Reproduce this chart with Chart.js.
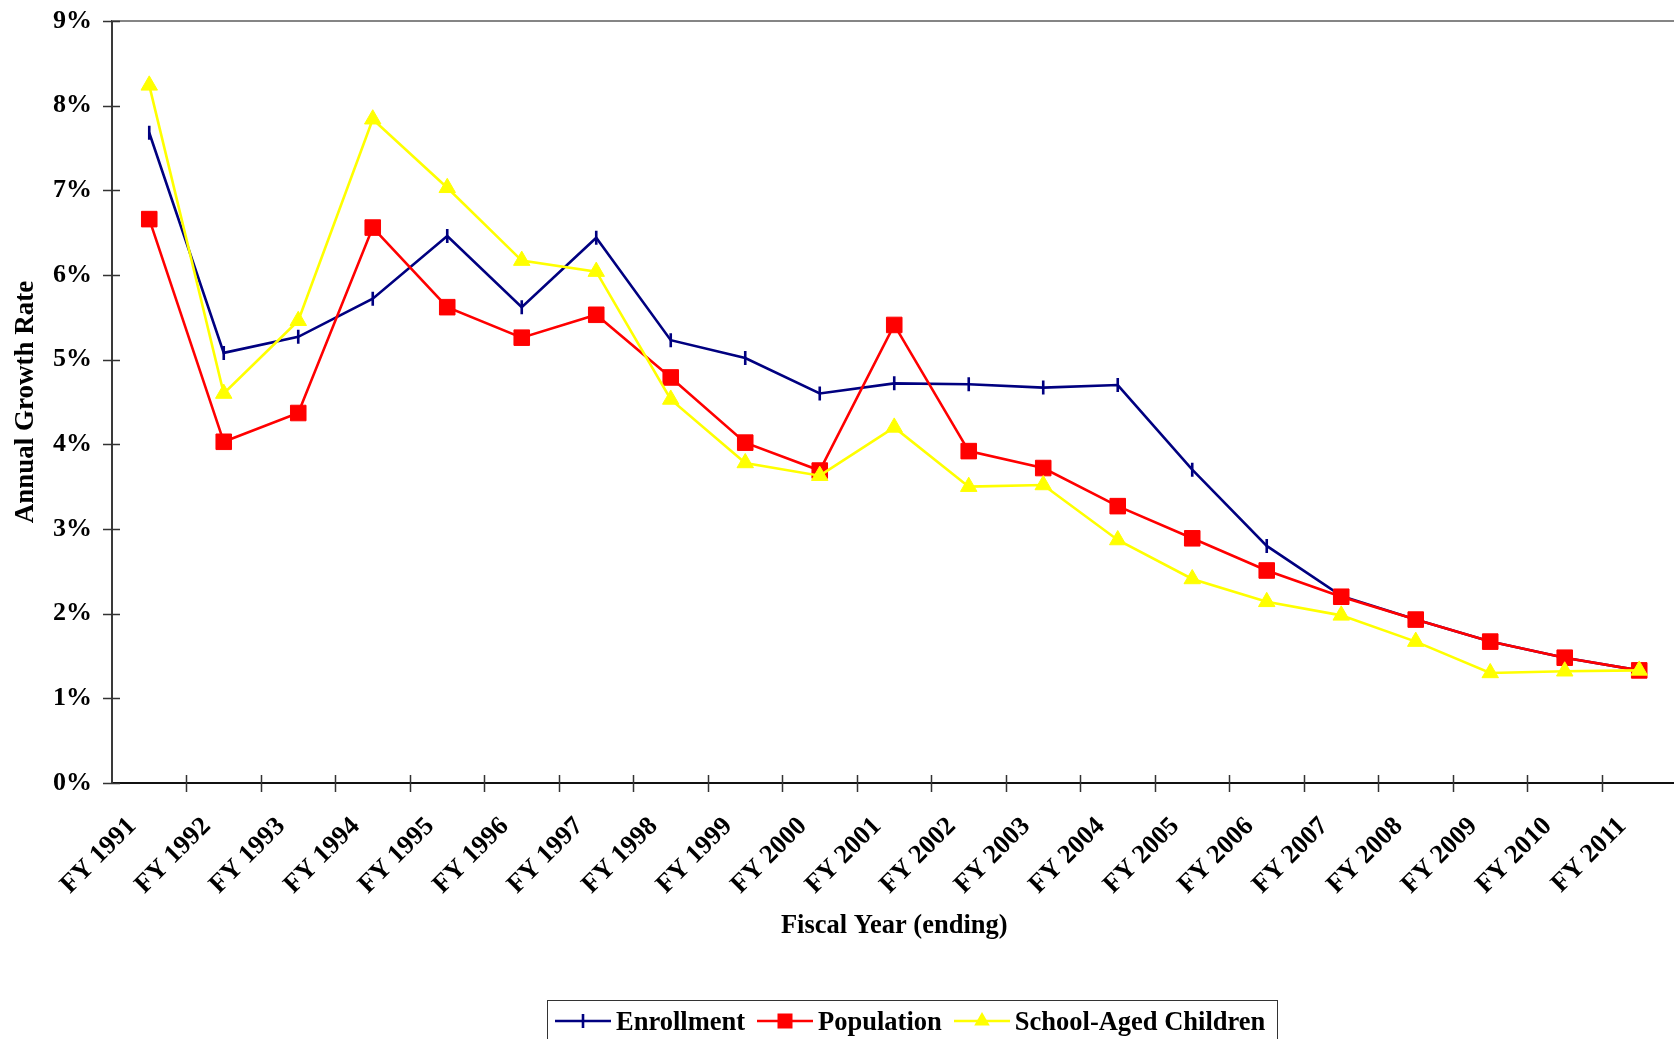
<!DOCTYPE html>
<html><head><meta charset="utf-8">
<script src="https://cdn.jsdelivr.net/npm/chart.js@4.4.1/dist/chart.umd.min.js"></script>
<style>
html,body{margin:0;padding:0;overflow:hidden;background:#fff;width:1674px;height:1039px;}
#wrap{position:absolute;left:0;top:0;width:1690px;height:1039px;}
#legend{position:absolute;left:547px;top:1000px;width:731px;height:60px;border:1px solid #333;box-sizing:border-box;display:flex;align-items:flex-start;padding:5px 0 0 7px;font:bold 26.5px "Liberation Serif";line-height:30px;color:#000;}
.item{display:flex;align-items:center;margin-right:12px;white-space:nowrap}
.item canvas{margin-right:5px}
</style></head>
<body>
<div id="wrap"><canvas id="c" width="1690" height="1039"></canvas></div>
<div id="legend"></div>
<script>
const categories = ['FY 1991','FY 1992','FY 1993','FY 1994','FY 1995','FY 1996','FY 1997','FY 1998','FY 1999','FY 2000','FY 2001','FY 2002','FY 2003','FY 2004','FY 2005','FY 2006','FY 2007','FY 2008','FY 2009','FY 2010','FY 2011'];
const enrollment = [7.68, 5.08, 5.27, 5.72, 6.46, 5.62, 6.44, 5.23, 5.02, 4.60, 4.72, 4.71, 4.67, 4.70, 3.70, 2.80, 2.21, 1.93, 1.67, 1.48, 1.33];
const population = [6.66, 4.03, 4.37, 6.56, 5.62, 5.26, 5.53, 4.79, 4.02, 3.69, 5.41, 3.92, 3.72, 3.27, 2.89, 2.51, 2.20, 1.93, 1.67, 1.48, 1.33];
const schoolAged = [8.24, 4.60, 5.46, 7.84, 7.03, 6.17, 6.04, 4.53, 3.78, 3.63, 4.20, 3.50, 3.52, 2.87, 2.41, 2.14, 1.98, 1.67, 1.30, 1.32, 1.33];
const seriesNames = ['Enrollment', 'Population', 'School-Aged Children'];
const yTickValues = [0,1,2,3,4,5,6,7,8,9];
const xTitle = 'Fiscal Year (ending)';
const yTitle = 'Annual Growth Rate';

const NAVY = '#000080', RED = '#FF0000', YELLOW = '#FFFF00';
const FONT = 'Liberation Serif';

Chart.defaults.font.family = FONT;
Chart.defaults.font.weight = 'bold';
Chart.defaults.color = '#000';

const axisDecor = {
  id: 'axisDecor',
  beforeDatasetsDraw(chart) {
    const {ctx, chartArea: a, scales: {x, y}} = chart;
    ctx.save();
    ctx.strokeStyle = '#858585';
    ctx.lineWidth = 2;
    ctx.beginPath(); ctx.moveTo(a.left, a.top); ctx.lineTo(a.right + 20, a.top); ctx.stroke();
    ctx.strokeStyle = '#333';
    ctx.lineWidth = 1.5;
    ctx.beginPath();
    y.ticks.forEach((t, i) => {
      const py = Math.round(y.getPixelForTick(i)) + 0.5;
      ctx.moveTo(a.left - 9, py); ctx.lineTo(a.left + 8, py);
    });
    const n = x.ticks.length;
    for (let i = 1; i <= n; i++) {
      const px = Math.round(x.left + i * x.width / n) + 0.5;
      ctx.moveTo(px, a.bottom - 8); ctx.lineTo(px, a.bottom + 9);
    }
    ctx.stroke();
    ctx.restore();
  }
};

const datasets = [
  {label: seriesNames[0], data: enrollment, borderColor: NAVY, backgroundColor: NAVY, borderWidth: 2.6,
   pointStyle: 'line', pointRotation: 90, pointRadius: 7, pointBorderWidth: 2.6, pointHoverRadius: 7, order: 3},
  {label: seriesNames[1], data: population, borderColor: RED, backgroundColor: RED, borderWidth: 2.6,
   pointStyle: 'rect', pointRadius: 11, pointBorderWidth: 1, pointHoverRadius: 11, order: 2},
  {label: seriesNames[2], data: schoolAged, borderColor: YELLOW, backgroundColor: YELLOW, borderWidth: 2.6,
   pointStyle: 'triangle', pointRadius: 9.5, pointBorderWidth: 1, pointHoverRadius: 9.5, order: 1}
];

new Chart(document.getElementById('c'), {
  type: 'line',
  data: {labels: categories, datasets},
  options: {
    responsive: false,
    animation: false,
    events: [],
    layout: {padding: {top: 21, left: 0, right: 12, bottom: 89}},
    plugins: {legend: {display: false}, tooltip: {enabled: false}},
    elements: {line: {tension: 0}},
    scales: {
      x: {
        offset: true,
        grid: {display: true, drawOnChartArea: false, drawTicks: false, offset: true, color: 'rgba(0,0,0,0)'},
        border: {display: true, color: '#111', width: 2},
        ticks: {autoSkip: false, maxRotation: 45, minRotation: 45, padding: 28, labelOffset: -17, font: {size: 26.5, weight: 'bold'}},
        title: {display: true, text: xTitle, font: {size: 26.5, weight: 'bold'}, padding: {top: 0, bottom: 8}},
        afterFit: s => { s.height = 167; }
      },
      y: {
        min: 0, max: 9,
        afterBuildTicks: s => { s.ticks = yTickValues.map(v => ({value: v})); },
        grid: {display: true, drawOnChartArea: false, drawTicks: true, tickLength: 20, color: 'rgba(0,0,0,0)'},
        border: {display: true, color: '#3a3a3a', width: 2},
        ticks: {padding: 0, font: {size: 26, weight: 'bold'}, callback: v => v + '%'},
        title: {display: true, text: yTitle, font: {size: 27, weight: 'bold'}, padding: {top: 10, bottom: 0}},
        afterFit: s => { s.width = 112; }
      }
    }
  },
  plugins: [axisDecor]
});

// HTML legend
const legendEl = document.getElementById('legend');
datasets.forEach(ds => {
  const item = document.createElement('div'); item.className = 'item';
  const cv = document.createElement('canvas'); cv.width = 56; cv.height = 26;
  const g = cv.getContext('2d');
  g.strokeStyle = ds.borderColor; g.fillStyle = ds.backgroundColor; g.lineWidth = 2.6;
  g.beginPath(); g.moveTo(0, 13); g.lineTo(56, 13); g.stroke();
  const cx = 28, cy = 13;
  if (ds.pointStyle === 'line') {
    g.beginPath(); g.moveTo(cx, cy - 7); g.lineTo(cx, cy + 7); g.stroke();
  } else if (ds.pointStyle === 'rect') {
    g.fillRect(cx - 7.5, cy - 7.5, 15, 15);
  } else {
    const r = 9;
    g.beginPath();
    g.moveTo(cx, cy - r);
    g.lineTo(cx + r * Math.sin(2 * Math.PI / 3), cy + r / 2);
    g.lineTo(cx - r * Math.sin(2 * Math.PI / 3), cy + r / 2);
    g.closePath(); g.fill();
  }
  const sp = document.createElement('span'); sp.textContent = ds.label;
  item.appendChild(cv); item.appendChild(sp);
  legendEl.appendChild(item);
});
</script>
</body></html>
